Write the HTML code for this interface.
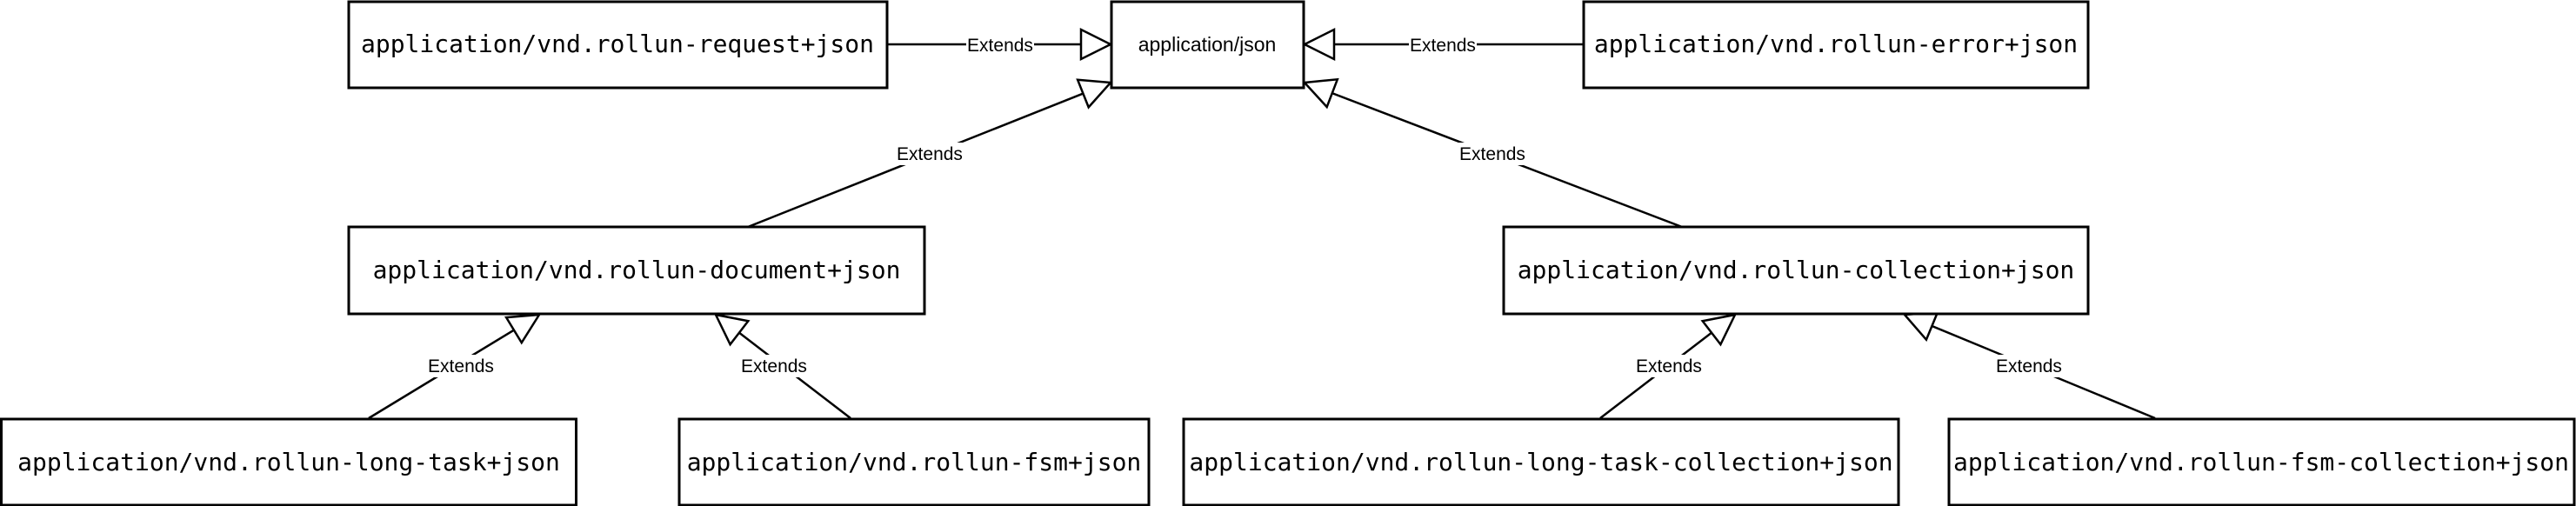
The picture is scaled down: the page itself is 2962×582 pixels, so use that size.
<!DOCTYPE html>
<html><head><meta charset="utf-8"><style>
html,body{margin:0;padding:0;background:#fff;}
svg{display:block;}
.b{fill:#fff;stroke:#000;stroke-width:3;}
.m{font-family:"DejaVu Sans Mono","Liberation Mono",monospace;font-size:28px;fill:#000;}
.s{font-family:"Liberation Sans",Arial,sans-serif;fill:#000;}
.l{stroke:#000;stroke-width:2.5;fill:none;}
</style></head><body>
<svg width="2962" height="582" viewBox="0 0 2962 582" xmlns="http://www.w3.org/2000/svg">
<defs>
<marker id="t" markerUnits="userSpaceOnUse" markerWidth="40" markerHeight="40" viewBox="0 0 40 40" refX="36" refY="20" orient="auto">
<path d="M2,3 L36,20 L2,37 Z" fill="#fff" stroke="#000" stroke-width="2.5"/>
</marker>
</defs>
<!-- edges -->
<line class="l" x1="1021" y1="51" x2="1277" y2="51" marker-end="url(#t)"/>
<line class="l" x1="1821" y1="51" x2="1500" y2="51" marker-end="url(#t)"/>
<line class="l" x1="860" y1="261" x2="1277" y2="95" marker-end="url(#t)"/>
<line class="l" x1="1934" y1="261" x2="1500" y2="95" marker-end="url(#t)"/>
<line class="l" x1="424" y1="481" x2="620" y2="362" marker-end="url(#t)"/>
<line class="l" x1="978" y1="481" x2="823" y2="362" marker-end="url(#t)"/>
<line class="l" x1="1840" y1="481" x2="1995" y2="362" marker-end="url(#t)"/>
<line class="l" x1="2478" y1="481" x2="2190" y2="362" marker-end="url(#t)"/>
<!-- labels -->
<g class="s" font-size="21" text-anchor="middle">
<rect x="1111" y="38" width="78" height="26" fill="#fff"/><text x="1150" y="59">Extends</text>
<rect x="1620" y="38" width="78" height="26" fill="#fff"/><text x="1659" y="59">Extends</text>
<rect x="1030" y="164" width="78" height="26" fill="#fff"/><text x="1069" y="184">Extends</text>
<rect x="1677" y="164" width="78" height="26" fill="#fff"/><text x="1716" y="184">Extends</text>
<rect x="491" y="408" width="78" height="26" fill="#fff"/><text x="530" y="428">Extends</text>
<rect x="851" y="408" width="78" height="26" fill="#fff"/><text x="890" y="428">Extends</text>
<rect x="1880" y="408" width="78" height="26" fill="#fff"/><text x="1919" y="428">Extends</text>
<rect x="2294" y="408" width="78" height="26" fill="#fff"/><text x="2333" y="428">Extends</text>
</g>
<!-- boxes -->
<rect class="b" x="401" y="2" width="619" height="99"/>
<text class="m" x="710" y="60" text-anchor="middle">application/vnd.rollun-request+json</text>
<rect class="b" x="1278" y="2" width="221" height="99"/>
<text class="s" font-size="23" x="1388" y="59" text-anchor="middle">application/json</text>
<rect class="b" x="1821" y="2" width="580" height="99"/>
<text class="m" x="2111" y="60" text-anchor="middle">application/vnd.rollun-error+json</text>
<rect class="b" x="401" y="261" width="662" height="100"/>
<text class="m" x="732" y="320" text-anchor="middle">application/vnd.rollun-document+json</text>
<rect class="b" x="1729" y="261" width="672" height="100"/>
<text class="m" x="2065" y="320" text-anchor="middle">application/vnd.rollun-collection+json</text>
<rect class="b" x="1.5" y="482" width="661" height="99"/>
<text class="m" x="332" y="541" text-anchor="middle">application/vnd.rollun-long-task+json</text>
<rect class="b" x="781" y="482" width="540" height="99"/>
<text class="m" x="1051" y="541" text-anchor="middle">application/vnd.rollun-fsm+json</text>
<rect class="b" x="1361" y="482" width="822" height="99"/>
<text class="m" x="1772" y="541" text-anchor="middle">application/vnd.rollun-long-task-collection+json</text>
<rect class="b" x="2241" y="482" width="719" height="99"/>
<text class="m" x="2600" y="541" text-anchor="middle">application/vnd.rollun-fsm-collection+json</text>
</svg>
</body></html>
